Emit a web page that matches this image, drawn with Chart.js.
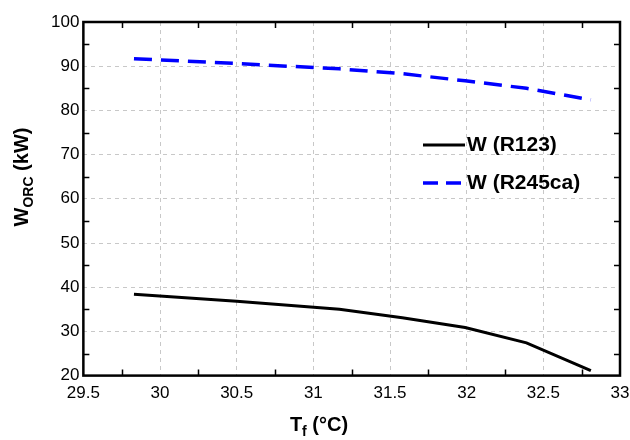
<!DOCTYPE html>
<html>
<head>
<meta charset="utf-8">
<script src="https://cdn.jsdelivr.net/npm/chart.js@4"></script>
<style>
  html, body { margin: 0; padding: 0; background: #fff; }
  #wrap { width: 630px; height: 440px; }
</style>
</head>
<body>
<div id="wrap"><canvas id="chart"></canvas></div>
<script>
// values
var tf = [29.83, 30.5, 31.17, 31.58, 31.99, 32.39, 32.81];
var wR123 = [38.4, 36.8, 35.0, 33.1, 30.9, 27.4, 21.1];
var wR245ca = [91.7, 90.6, 89.4, 88.3, 86.7, 85.0, 82.4];
var seriesNames = ['W (R123)', 'W (R245ca)'];
var xMinorTicks = [29.75, 30.25, 30.75, 31.25, 31.75, 32.25, 32.75];
var yMinorTicks = [25, 35, 45, 55, 65, 75, 85, 95];

var FONT = '"Liberation Sans", Arial, sans-serif';

function toPoints(xs, ys) {
    return xs.map((x, i) => ({x: x, y: ys[i]}));
}

// text with one subscript part, centred on 0,0 of the current transform
function drawSubTitle(ctx, main, sub, rest) {
    ctx.font = 'bold 20px ' + FONT;
    var w1 = ctx.measureText(main).width;
    var w3 = ctx.measureText(rest).width;
    ctx.font = 'bold 14px ' + FONT;
    var w2 = ctx.measureText(sub).width;
    var s = -(w1 + w2 + w3) / 2;
    ctx.font = 'bold 20px ' + FONT;
    ctx.fillText(main, s, 0);
    ctx.fillText(rest, s + w1 + w2, 0);
    ctx.font = 'bold 14px ' + FONT;
    ctx.fillText(sub, s + w1, 7);
}

// frame, inward minor ticks, legend and axis titles
var decorations = {
    id: 'decorations',
    afterDraw(chart) {
        var ctx = chart.ctx;
        var a = chart.chartArea;
        var xs = chart.scales.x, ys = chart.scales.y;
        ctx.save();
        ctx.strokeStyle = '#000';
        ctx.lineWidth = 1.5;
        var len = 6;
        ctx.beginPath();
        for (var v of xMinorTicks) {
            var px = Math.round(xs.getPixelForValue(v)) + 0.5;
            ctx.moveTo(px, a.bottom); ctx.lineTo(px, a.bottom - len);
            ctx.moveTo(px, a.top); ctx.lineTo(px, a.top + len);
        }
        for (var v of yMinorTicks) {
            var py = Math.round(ys.getPixelForValue(v)) + 0.5;
            ctx.moveTo(a.left, py); ctx.lineTo(a.left + len, py);
            ctx.moveTo(a.right, py); ctx.lineTo(a.right - len, py);
        }
        ctx.stroke();

        ctx.lineWidth = 2.5;
        ctx.strokeRect(a.left, a.top, a.right - a.left, a.bottom - a.top);

        // legend
        var lx = 423, ly1 = 145, ly2 = 183;
        ctx.lineWidth = 3;
        ctx.strokeStyle = '#000';
        ctx.beginPath(); ctx.moveTo(lx, ly1); ctx.lineTo(lx + 42, ly1); ctx.stroke();
        ctx.strokeStyle = '#0000ff';
        ctx.lineWidth = 3.5;
        ctx.setLineDash([15, 8]);
        ctx.beginPath(); ctx.moveTo(lx, ly2); ctx.lineTo(lx + 42, ly2); ctx.stroke();
        ctx.setLineDash([]);
        ctx.fillStyle = '#000';
        ctx.font = 'bold 21px ' + FONT;
        ctx.textBaseline = 'middle';
        ctx.textAlign = 'left';
        ctx.fillText(seriesNames[0], lx + 44, ly1);
        ctx.fillText(seriesNames[1], lx + 44, ly2);

        // x title: T_f (°C)
        ctx.save();
        ctx.translate(319, 425);
        drawSubTitle(ctx, 'T', 'f', ' (°C)');
        ctx.restore();

        // y title: W_ORC (kW)
        ctx.translate(22, 177);
        ctx.rotate(-Math.PI / 2);
        drawSubTitle(ctx, 'W', 'ORC', ' (kW)');
        ctx.restore();
    }
};

var gridStyle = {
    color: '#c8c8c8',
    lineWidth: 1,
    drawTicks: false
};

new Chart(document.getElementById('chart'), {
    type: 'line',
    data: {
        datasets: [
            {
                label: seriesNames[0],
                data: toPoints(tf, wR123),
                borderColor: '#000',
                borderWidth: 3,
                pointRadius: 0,
                tension: 0
            },
            {
                label: seriesNames[1],
                data: toPoints(tf, wR245ca),
                borderColor: '#0000ff',
                borderWidth: 3.5,
                borderDash: [18, 9],
                pointRadius: 0,
                tension: 0
            }
        ]
    },
    options: {
        responsive: true,
        maintainAspectRatio: false,
        animation: false,
        layout: { padding: { left: 47, right: 10, top: 22, bottom: 28 } },
        plugins: { legend: { display: false }, tooltip: { enabled: false } },
        scales: {
            x: {
                type: 'linear',
                min: 29.5,
                max: 33,
                grid: gridStyle,
                border: { display: false, dash: [4, 4] },
                afterFit: s => { s.paddingRight = 0; s.paddingLeft = 0; },
                ticks: {
                    stepSize: 0.5,
                    padding: 8,
                    color: '#000',
                    font: { family: FONT, size: 17 },
                    maxRotation: 0,
                    callback: v => String(v)
                }
            },
            y: {
                min: 20,
                max: 100,
                grid: gridStyle,
                border: { display: false, dash: [4, 4] },
                ticks: {
                    stepSize: 10,
                    padding: 4,
                    color: '#000',
                    font: { family: FONT, size: 17 }
                }
            }
        }
    },
    plugins: [decorations]
});
</script>
</body>
</html>
